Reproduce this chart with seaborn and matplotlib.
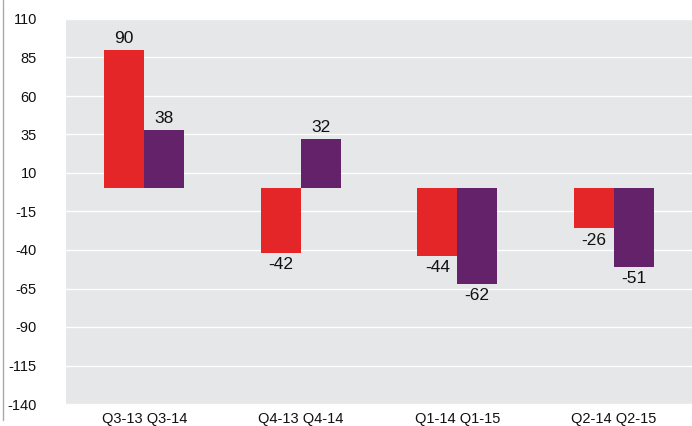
import matplotlib
matplotlib.use("Agg")
import matplotlib.pyplot as plt
import seaborn as sns
import pandas as pd
from matplotlib.lines import Line2D

categories = ["Q3-13 Q3-14", "Q4-13 Q4-14", "Q1-14 Q1-15", "Q2-14 Q2-15"]
series_names = ["A", "B"]
values_a = [90, -42, -44, -26]
values_b = [38, 32, -62, -51]
yticks = [110, 85, 60, 35, 10, -15, -40, -65, -90, -115, -140]

df = pd.DataFrame({
    "cat": categories * 2,
    "series": [series_names[0]] * 4 + [series_names[1]] * 4,
    "val": values_a + values_b,
})

sns.set_theme(style="white")
plt.rcParams['font.family'] = ['Liberation Sans', 'DejaVu Sans']

fig = plt.figure(figsize=(6.92, 4.26), dpi=100)
ax = fig.add_axes([66/692, 1 - 404/426, 626/692, (404-19)/426])
ax.set_facecolor("#e6e7e8")

sns.barplot(data=df, x="cat", y="val", hue="series", order=categories,
            palette=["#e52628", "#63226a"], width=0.51, saturation=1,
            legend=False, ax=ax, zorder=3, linewidth=0)

ax.set_ylim(-140, 110)
ax.set_yticks(yticks)
ax.set_yticklabels([str(t) for t in yticks], fontsize=10.5, color="#111111")
ax.tick_params(axis='y', length=0, pad=21)
ax.tick_params(axis='x', length=0, pad=6, labelsize=10.5, labelcolor="#111111")
for t in yticks:
    ax.axhline(t, color="white", lw=1, zorder=1)
for s in ax.spines.values():
    s.set_visible(False)
ax.set_xlabel("")
ax.set_ylabel("")

for cont in ax.containers:
    for bar in cont:
        h = bar.get_height()
        x = bar.get_x() + bar.get_width() / 2
        if h >= 0:
            ax.annotate(f"{h:.0f}", (x, h), xytext=(0, 3), textcoords="offset points",
                        ha="center", va="bottom", fontsize=12.5, color="#111111")
        else:
            ax.annotate(f"{h:.0f}", (x, h), xytext=(0, -3), textcoords="offset points",
                        ha="center", va="top", fontsize=12.5, color="#111111")

fig.add_artist(Line2D([2.5/692, 2.5/692], [1 - 420/426, 1], color="#aaaaaa", lw=1))

fig.savefig("out.png", dpi=100)
